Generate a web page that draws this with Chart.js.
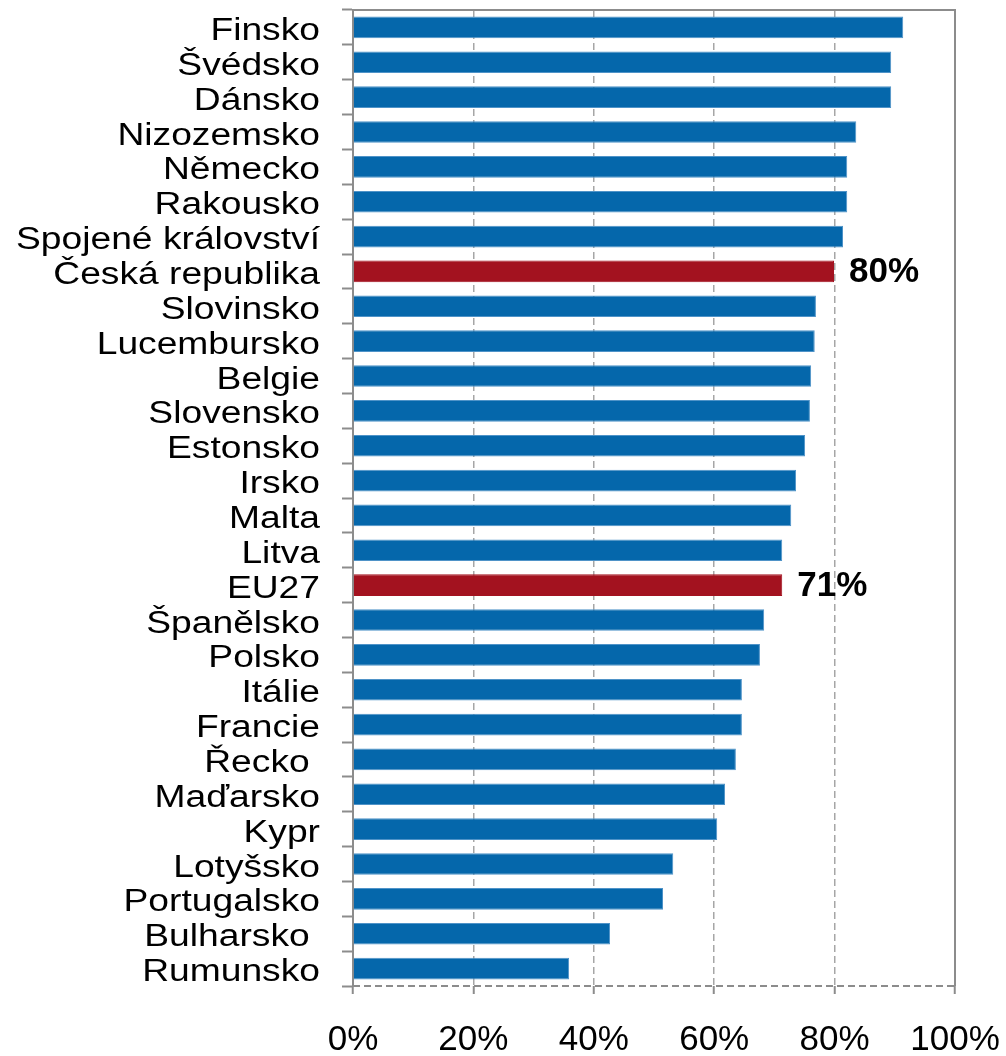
<!DOCTYPE html>
<html>
<head>
<meta charset="utf-8">
<script src="https://cdn.jsdelivr.net/npm/chart.js@4"></script>
<style>
  html, body { margin: 0; padding: 0; background: #fff; }
  canvas { display: block; }
</style>
</head>
<body>
<canvas id="myChart" width="1006" height="1056"></canvas>
<script>
// countries, top to bottom
const countries = [
  'Finsko', 'Švédsko', 'Dánsko', 'Nizozemsko', 'Německo', 'Rakousko',
  'Spojené království', 'Česká republika', 'Slovinsko', 'Lucembursko',
  'Belgie', 'Slovensko', 'Estonsko', 'Irsko', 'Malta', 'Litva', 'EU27',
  'Španělsko', 'Polsko', 'Itálie', 'Francie', 'Řecko ', 'Maďarsko', 'Kypr',
  'Lotyšsko', 'Portugalsko', 'Bulharsko ', 'Rumunsko'
];

// share in percent
const values = [
  91.4, 89.4, 89.4, 83.6, 82.1, 82.1,
  81.4, 79.9, 76.9, 76.7,
  76.1, 75.9, 75.1, 73.6, 72.8, 71.3, 71.3,
  68.3, 67.6, 64.6, 64.6, 63.6, 61.8, 60.5,
  53.2, 51.5, 42.7, 35.9
];

// bars shown in red with a value label
const highlighted = ['Česká republika', 'EU27'];

const xTicks = [0, 20, 40, 60, 80, 100];

const FONT = "'Liberation Sans', Arial, sans-serif";
const AXIS_GRAY = '#8c8c8c';

const barColors = countries.map((c) => highlighted.includes(c) ? '#a3121f' : '#0567ab');
const barBorders = countries.map((c) => highlighted.includes(c) ? '#a3121f' : '#4f93c8');

// draw the frame: solid top and right, dashed bottom
const framePlugin = {
  id: 'frame',
  afterDatasetsDraw(chart) {
    const { ctx, chartArea } = chart;
    ctx.save();
    ctx.strokeStyle = AXIS_GRAY;
    ctx.lineWidth = 2;
    ctx.beginPath();
    ctx.moveTo(chartArea.left, chartArea.top);
    ctx.lineTo(chartArea.right, chartArea.top);
    ctx.lineTo(chartArea.right, chartArea.bottom);
    ctx.stroke();
    ctx.setLineDash([7, 4]);
    ctx.beginPath();
    ctx.moveTo(chartArea.left, chartArea.bottom);
    ctx.lineTo(chartArea.right, chartArea.bottom);
    ctx.stroke();
    ctx.restore();
  },
};

// category names, drawn a bit wider than normal like in the original
const categoryLabelPlugin = {
  id: 'categoryLabels',
  afterDraw(chart) {
    const { ctx } = chart;
    const yScale = chart.scales.y;
    ctx.save();
    ctx.font = `31px ${FONT}`;
    ctx.fillStyle = '#000';
    ctx.textAlign = 'right';
    ctx.textBaseline = 'alphabetic';
    countries.forEach((name, i) => {
      const y = yScale.getPixelForValue(i);
      ctx.save();
      ctx.translate(yScale.right - 33, y + 12.5);
      ctx.scale(1.2, 1);
      ctx.fillText(name, 0, 0);
      ctx.restore();
    });
    ctx.restore();
  },
};

// value labels next to the highlighted bars
const valueLabelPlugin = {
  id: 'valueLabels',
  afterDatasetsDraw(chart) {
    const { ctx } = chart;
    const meta = chart.getDatasetMeta(0);
    ctx.save();
    ctx.font = `bold 35px ${FONT}`;
    ctx.fillStyle = '#000';
    ctx.textAlign = 'left';
    ctx.textBaseline = 'middle';
    meta.data.forEach((bar, i) => {
      if (!highlighted.includes(countries[i])) return;
      ctx.fillText(Math.round(values[i]) + '%', bar.x + 15, bar.y + 1);
    });
    ctx.restore();
  },
};

let ctx = document.getElementById('myChart').getContext('2d');

const chart = new Chart(ctx, {
  type: 'bar',
  data: {
    labels: countries,
    datasets: [
      {
        data: values,
        backgroundColor: barColors,
        borderColor: barBorders,
        borderWidth: 1,
        barPercentage: 0.62,
        categoryPercentage: 1,
      },
    ],
  },
  options: {
    indexAxis: 'y',
    responsive: false,
    animation: false,
    devicePixelRatio: 1,
    layout: { padding: { top: 10, right: 51, left: 0, bottom: 0 } },
    plugins: {
      legend: { display: false },
      tooltip: { enabled: false },
    },
    scales: {
      x: {
        min: 0,
        max: 100,
        afterBuildTicks: (scale) => {
          scale.ticks = xTicks.map((v) => ({ value: v }));
        },
        afterFit: (scale) => {
          scale.height = 70;
          scale.paddingLeft = 0;
          scale.paddingRight = 0;
        },
        ticks: {
          callback: (v) => v + '%',
          color: '#000',
          font: { family: FONT, size: 35 },
          padding: 25,
          maxRotation: 0,
        },
        grid: {
          color: '#a6a6a6',
          lineWidth: 1.5,
          drawTicks: true,
          tickLength: 8,
          tickColor: AXIS_GRAY,
          tickWidth: 2,
        },
        border: { display: false, dash: [7, 4] },
      },
      y: {
        afterFit: (scale) => {
          scale.width = 353;
          scale.paddingTop = 0;
          scale.paddingBottom = 0;
        },
        ticks: { display: false },
        grid: {
          offset: true,
          drawOnChartArea: false,
          drawTicks: true,
          tickLength: 11,
          tickColor: AXIS_GRAY,
          tickWidth: 2,
        },
        border: { display: true, color: AXIS_GRAY, width: 2 },
      },
    },
  },
  plugins: [framePlugin, valueLabelPlugin, categoryLabelPlugin],
});
</script>
</body>
</html>
